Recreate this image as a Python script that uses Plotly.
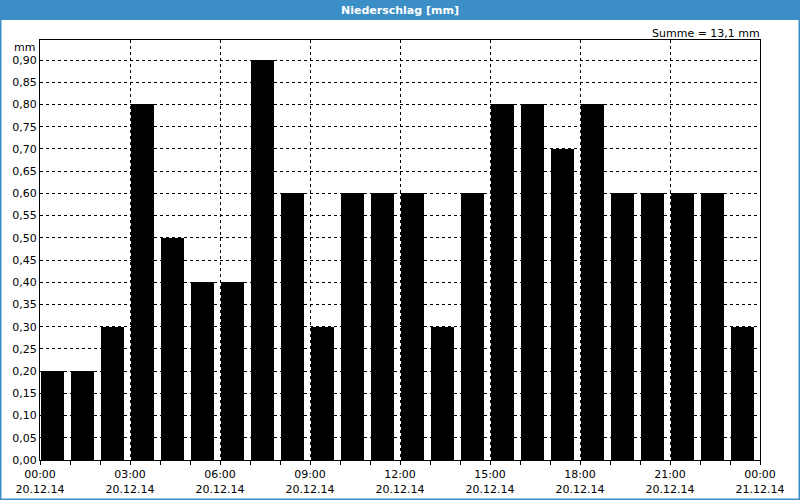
import plotly.graph_objects as go

hours = list(range(24))
values = [0.2, 0.2, 0.3, 0.8, 0.5, 0.4, 0.4, 0.9, 0.6, 0.3, 0.6, 0.6,
          0.6, 0.3, 0.6, 0.8, 0.8, 0.7, 0.8, 0.6, 0.6, 0.6, 0.6, 0.3]
tick_hours = [0, 3, 6, 9, 12, 15, 18, 21, 24]
tick_labels = ["00:00<br>20.12.14", "03:00<br>20.12.14", "06:00<br>20.12.14",
               "09:00<br>20.12.14", "12:00<br>20.12.14", "15:00<br>20.12.14",
               "18:00<br>20.12.14", "21:00<br>20.12.14", "00:00<br>21.12.14"]
title = "Niederschlag [mm]"
summe = "Summe = 13,1 mm"
unit = "mm"

FONT = "DejaVu Sans"
W, H = 800, 500
L, R, T, B = 40, 40, 40, 40
PW, PH = W - L - R, H - T - B

def px(x):
    return (x - L) / PW

def py(y):
    return (H - B - y) / PH

fig = go.Figure()
fig.add_trace(go.Bar(
    x=[h + 0.42 for h in hours], y=values, width=0.76,
    marker=dict(color="black", line=dict(width=0)),
    hoverinfo="skip",
))

fig.update_layout(
    width=W, height=H,
    margin=dict(l=L, r=R, t=T, b=B, autoexpand=False),
    paper_bgcolor="white", plot_bgcolor="white",
    separators=",.",
    showlegend=False,
    font=dict(family=FONT, size=11, color="black"),
    xaxis=dict(
        range=[0, 24], tickmode="array", tickvals=tick_hours, ticktext=tick_labels,
        showgrid=True, gridcolor="black", gridwidth=1, griddash="3px,3px",
        ticks="outside", ticklen=4, tickcolor="black",
        minor=dict(dtick=1, tick0=0, ticks="outside", ticklen=4, tickcolor="black", showgrid=False),
        showline=True, linecolor="black", linewidth=1, mirror=True,
        zeroline=False, tickfont=dict(family=FONT, size=11), automargin=False,
    ),
    yaxis=dict(
        range=[0, 0.945], tick0=0, dtick=0.05, tickformat=".2f",
        showgrid=True, gridcolor="black", gridwidth=1, griddash="3px,3px",
        ticks="", showline=True, linecolor="black", linewidth=1, mirror=True,
        zeroline=False, tickfont=dict(family=FONT, size=11), automargin=False,
    ),
    bargap=0,
)

# window frame and title bar
fig.add_shape(type="rect", xref="paper", yref="paper",
              x0=px(0.5), x1=px(799.5), y0=py(499.5), y1=py(0.5),
              line=dict(color="#3c8fc6", width=2), fillcolor="rgba(0,0,0,0)", layer="above")
fig.add_shape(type="rect", xref="paper", yref="paper",
              x0=px(0), x1=px(800), y0=py(20), y1=py(0),
              line=dict(width=0), fillcolor="#3c8fc6", layer="above")
fig.add_annotation(text="<b>" + title + "</b>", xref="paper", yref="paper",
                   x=px(400), y=py(10), showarrow=False,
                   font=dict(family=FONT, size=11, color="white"),
                   xanchor="center", yanchor="middle")
fig.add_annotation(text=summe, xref="paper", yref="paper",
                   x=px(762), y=py(33), showarrow=False,
                   font=dict(family=FONT, size=11, color="black"),
                   xanchor="right", yanchor="middle")
fig.add_annotation(text=unit, xref="paper", yref="paper",
                   x=px(37), y=py(47), showarrow=False,
                   font=dict(family=FONT, size=11, color="black"),
                   xanchor="right", yanchor="middle")

fig.write_html("out.html")
